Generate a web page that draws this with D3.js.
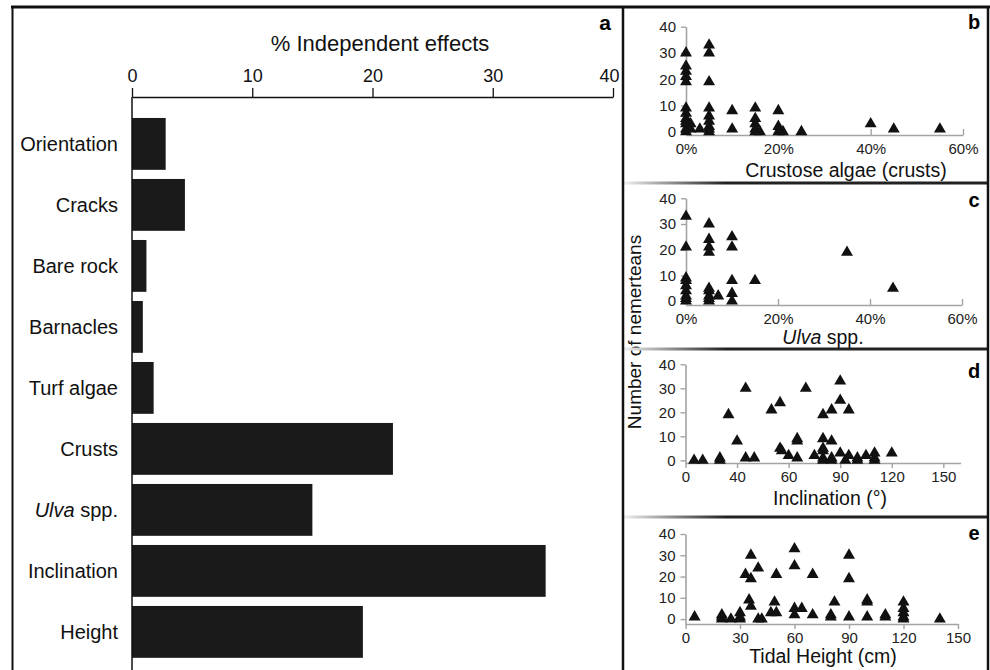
<!DOCTYPE html>
<html>
<head>
<meta charset="utf-8">
<script src="https://cdn.jsdelivr.net/npm/d3@7"></script>
<style>
  body { margin: 0; background: #fff; }
  svg { font-family: "Liberation Sans", Arial, Helvetica, sans-serif; }
</style>
</head>
<body>
<script>
// bar chart data (panel a)
var barCats = ["Orientation", "Cracks", "Bare rock", "Barnacles", "Turf algae",
               "Crusts", "Ulva spp.", "Inclination", "Height"];
var barVals = [2.8, 4.4, 1.2, 0.9, 1.8, 21.7, 15.0, 34.4, 19.2];
var barTicks = [0, 10, 20, 30, 40];

// scatter data: [x, number of nemerteans]
var crustPts = [
  [0,30],[0,25],[0,23],[0,21],[0,19],[0,9],[0,7],[0,5],[0,4],[0,3],[0,1],[0,0],
  [1,3],[1,1],[3,1],
  [5,33],[5,30],[5,19],[5,9],[5,6],[5,4],[5,2],[5,1],[5,0],
  [10,8],[10,1],
  [15,9],[15,5],[15,3],[15,1],[15,0],[16,0],
  [20,8],[20,2],[20,0],[21,0],[25,0],
  [40,3],[45,1],[55,1]
];
var ulvaPts = [
  [0,33],[0,21],[0,9],[0,8],[0,6],[0,4],[0,2],[0,1],[0,0],
  [5,30],[5,24],[5,21],[5,19],[5,5],[5,4],[5,2],[5,1],[5,0],
  [7,2],
  [10,25],[10,21],[10,8],[10,3],[10,0],
  [15,8],[35,19],[45,5]
];
var inclPts = [
  [5,0],[10,0],[20,1],[20,0],[25,19],[30,8],[35,30],[35,1],[40,1],
  [50,21],[55,24],[55,5],[56,4],[60,2],[65,9],[65,8],[65,1],[70,30],[75,2],
  [80,19],[80,9],[80,5],[80,4],[80,1],[80,0],[85,21],[85,8],[85,1],[85,0],
  [90,33],[90,25],[90,3],[93,0],[95,21],[95,2],[100,1],[100,0],[105,2],
  [110,3],[110,1],[110,0],[120,3]
];
var tidePts = [
  [5,1],[20,2],[20,1],[20,0],[25,0],[30,3],[30,1],[30,0],[33,21],[36,30],
  [36,19],[35,9],[36,6],[40,24],[40,0],[42,0],[47,3],[49,8],[50,21],[50,3],
  [60,33],[60,25],[60,5],[60,2],[64,5],[70,21],[70,2],[80,2],[80,1],[82,8],
  [90,30],[90,19],[90,1],[100,9],[100,8],[100,1],[110,2],[110,1],
  [120,8],[120,5],[120,3],[120,1],[120,0],[140,0]
];
var countTicks = [0, 10, 20, 30, 40];
var pctTicks = [0, 20, 40, 60];
var degTicks = [0, 30, 60, 90, 120, 150];
var degLabels = ["0", "40", "60", "90", "120", "150"];
var cmTicks = [0, 30, 60, 90, 120, 150];
var cmLabels = ["0", "30", "60", "90", "120", "150"];

var svg = d3.select("body").append("svg")
    .attr("width", 990)
    .attr("height", 670);

// ---------- panel a ----------
var x = d3.scaleLinear().domain([0, 40]).range([132, 613]);
var y = d3.scaleBand().domain(barCats).range([113.4, 662.4])
    .paddingInner(0.15).paddingOuter(0.075);
var axisTopY = 97;

svg.selectAll("rect.bar")
    .data(barVals)
    .enter().append("rect")
    .attr("class", "bar")
    .attr("x", x(0))
    .attr("y", function(d, i) { return y(barCats[i]); })
    .attr("width", function(d) { return x(d) - x(0); })
    .attr("height", y.bandwidth())
    .attr("fill", "#1a1a1a");

var gx = svg.append("g")
    .attr("transform", "translate(0," + axisTopY + ")")
    .call(d3.axisTop(x).tickValues(barTicks).tickSize(9).tickSizeOuter(0).tickPadding(6));
gx.select(".domain").attr("stroke", "#111").attr("stroke-width", 1.5);
gx.selectAll(".tick line").attr("stroke", "#111").attr("stroke-width", 1.3);
gx.selectAll(".tick text").attr("font-size", 18).attr("fill", "#111")
    .attr("font-family", "Liberation Sans, Arial, sans-serif");
// last label is pulled inside the panel, as in the original
gx.selectAll(".tick text").filter(function(d) { return d === 40; })
    .attr("text-anchor", "end").attr("x", 6);

svg.append("line")
    .attr("x1", x(0)).attr("x2", x(0))
    .attr("y1", axisTopY).attr("y2", 670)
    .attr("stroke", "#111").attr("stroke-width", 1.5);

svg.selectAll("text.cat")
    .data(barCats)
    .enter().append("text")
    .attr("class", "cat")
    .attr("x", 118)
    .attr("y", function(d) { return y(d) + y.bandwidth() / 2; })
    .attr("dy", "0.35em")
    .attr("text-anchor", "end")
    .attr("font-size", 20)
    .attr("fill", "#111")
    .each(function(d) {
      var t = d3.select(this);
      if (d === "Ulva spp.") {
        t.append("tspan").attr("font-style", "italic").text("Ulva");
        t.append("tspan").text(" spp.");
      } else {
        t.text(d);
      }
    });

svg.append("text")
    .attr("x", 380).attr("y", 43).attr("dy", "0.35em")
    .attr("text-anchor", "middle")
    .attr("font-size", 22).attr("fill", "#111")
    .text("% Independent effects");

svg.append("text")
    .attr("x", 605).attr("y", 23).attr("dy", "0.35em")
    .attr("text-anchor", "middle")
    .attr("font-size", 21).attr("font-weight", "bold")
    .text("a");

// ---------- scatter panels ----------
var tri = d3.symbol().type(d3.symbolTriangle).size(62);

function drawScatter(cfg) {
  var sx = d3.scaleLinear().domain(cfg.xDom).range(cfg.xRange);
  var sy = d3.scaleLinear().domain(cfg.yDom).range(cfg.yRange);
  var g = svg.append("g");

  var xa = d3.axisBottom(sx).tickValues(cfg.xTicks)
      .tickFormat(function(d, i) { return cfg.xLabels[i]; })
      .tickSize(cfg.tickUp ? -6 : 5).tickSizeOuter(0).tickPadding(cfg.tickUp ? 12 : 3);
  var gxa = g.append("g")
      .attr("transform", "translate(0," + cfg.yRange[0] + ")")
      .call(xa);
  if (cfg.tickUp) gxa.selectAll(".tick text").attr("y", 8);

  var ya = d3.axisLeft(sy).tickValues(countTicks).tickSize(5).tickSizeOuter(0).tickPadding(5);
  var gya = g.append("g")
      .attr("transform", "translate(" + cfg.xRange[0] + ",0)")
      .call(ya);

  [gxa, gya].forEach(function(a) {
    a.select(".domain").attr("stroke", "#a3a3a3").attr("stroke-width", 1.6);
    a.selectAll(".tick line").attr("stroke", "#a3a3a3").attr("stroke-width", 1.4);
    a.selectAll(".tick text").attr("font-size", 15).attr("fill", "#222")
        .attr("font-family", "Liberation Sans, Arial, sans-serif");
  });

  g.selectAll("path.pt")
      .data(cfg.pts)
      .enter().append("path")
      .attr("class", "pt")
      .attr("d", tri)
      .attr("transform", function(d) {
        return "translate(" + sx(d[0]) + "," + sy(d[1]) + ")";
      })
      .attr("fill", "#111");

  var t = g.append("text")
      .attr("x", cfg.titleX).attr("y", cfg.titleY).attr("dy", "0.35em")
      .attr("text-anchor", "middle")
      .attr("font-size", 19.5).attr("fill", "#111");
  if (cfg.italic) {
    t.append("tspan").attr("font-style", "italic").text(cfg.italic);
    t.append("tspan").text(cfg.title);
  } else {
    t.text(cfg.title);
  }

  g.append("text")
      .attr("x", 974).attr("y", cfg.letterY).attr("dy", "0.35em")
      .attr("text-anchor", "middle")
      .attr("font-size", 20).attr("font-weight", "bold")
      .text(cfg.letter);
}

drawScatter({
  pts: crustPts, xDom: [0, 60], xRange: [686, 963], yDom: [-1.25, 40], yRange: [135, 26.7],
  xTicks: pctTicks, xLabels: pctTicks.map(function(d) { return d + "%"; }), tickUp: true,
  title: "Crustose algae (crusts)", titleX: 846, titleY: 170, letter: "b", letterY: 22
});
drawScatter({
  pts: ulvaPts, xDom: [0, 60], xRange: [686, 962], yDom: [-1.5, 40], yRange: [305, 198.3],
  xTicks: pctTicks, xLabels: pctTicks.map(function(d) { return d + "%"; }), tickUp: true,
  italic: "Ulva", title: " spp.", titleX: 823, titleY: 337, letter: "c", letterY: 200
});
drawScatter({
  pts: inclPts, xDom: [0, 160], xRange: [685.5, 960.5], yDom: [-1.1, 40], yRange: [463, 364.3],
  xTicks: degTicks, xLabels: degLabels, tickUp: false,
  title: "Inclination (°)", titleX: 830, titleY: 498, letter: "d", letterY: 371
});
drawScatter({
  pts: tidePts, xDom: [0, 150], xRange: [685.5, 958], yDom: [-2.3, 40], yRange: [624, 534],
  xTicks: cmTicks, xLabels: cmLabels, tickUp: false,
  title: "Tidal Height (cm)", titleX: 823, titleY: 656, letter: "e", letterY: 533
});

svg.append("text")
    .attr("transform", "translate(634,332) rotate(-90)")
    .attr("dy", "0.35em")
    .attr("text-anchor", "middle")
    .attr("font-size", 19).attr("fill", "#111")
    .text("Number of nemerteans");

// ---------- frames ----------
var grad = svg.append("defs").append("linearGradient")
    .attr("id", "sep").attr("x1", "0%").attr("x2", "100%");
grad.append("stop").attr("offset", "0%").attr("stop-color", "#eeeeee");
grad.append("stop").attr("offset", "28%").attr("stop-color", "#222");
grad.append("stop").attr("offset", "100%").attr("stop-color", "#222");

[183, 349, 517].forEach(function(sy) {
  svg.append("rect")
      .attr("x", 624).attr("y", sy - 1.5)
      .attr("width", 364).attr("height", 3)
      .attr("fill", "url(#sep)");
});

svg.append("line").attr("x1", 11).attr("x2", 990).attr("y1", 7).attr("y2", 7)
    .attr("stroke", "#111").attr("stroke-width", 3);
svg.append("line").attr("x1", 12.5).attr("x2", 12.5).attr("y1", 6).attr("y2", 670)
    .attr("stroke", "#111").attr("stroke-width", 2);
svg.append("line").attr("x1", 623).attr("x2", 623).attr("y1", 6).attr("y2", 670)
    .attr("stroke", "#111").attr("stroke-width", 2.5);
svg.append("line").attr("x1", 988).attr("x2", 988).attr("y1", 6).attr("y2", 670)
    .attr("stroke", "#111").attr("stroke-width", 2.5);
</script>
</body>
</html>
